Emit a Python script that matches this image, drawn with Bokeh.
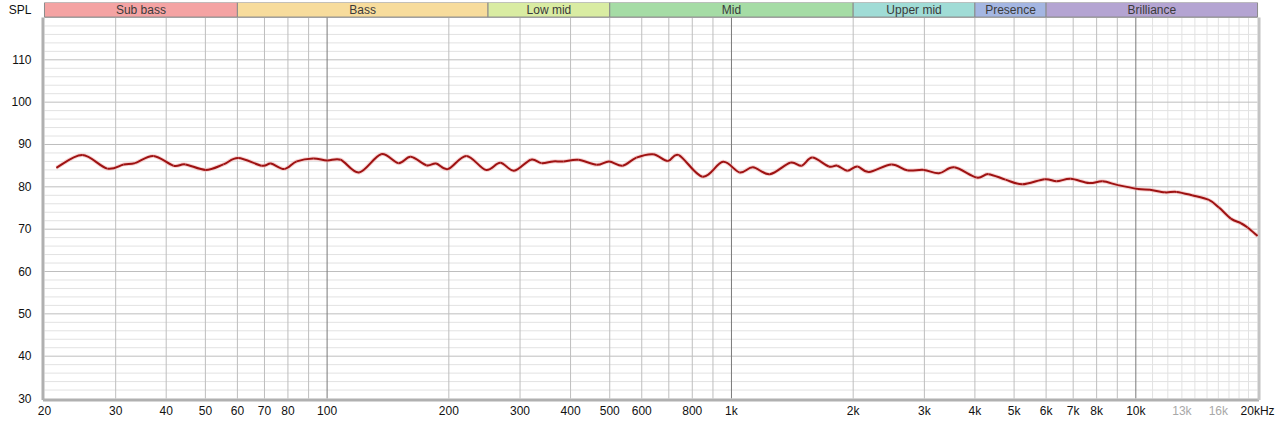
import numpy as np
from bokeh.plotting import figure
from bokeh.models import FixedTicker, Range1d
from bokeh.core.properties import value
from bokeh.embed import file_html
from bokeh.resources import INLINE

# ---- data ----
freq = [21.4, 24.8, 28.6, 31.4, 33.5, 37.2, 41.7, 44.6, 50.1, 55.4, 60.3, 68.9, 72.6, 78.4,
        84.1, 92.4, 100, 108, 120, 136, 150, 161, 176, 186, 199, 221, 247, 268, 290, 319,
        339, 362, 384, 418, 464, 498, 538, 582, 640, 696, 741, 848, 953, 1048, 1130, 1244,
        1397, 1492, 1585, 1741, 1826, 1934, 2048, 2188, 2486, 2720, 2990, 3260, 3556, 4040,
        4320, 4760, 5240, 5950, 6370, 6900, 7660, 8280, 9040, 10120, 10840, 11800, 12620,
        13780, 15160, 16060, 17180, 18200, 18900, 20000]
spl = [84.5, 87.5, 84.3, 85.3, 85.6, 87.3, 85.0, 85.3, 84.0, 85.3, 86.8, 85.0, 85.5, 84.2,
       86.0, 86.7, 86.2, 86.4, 83.4, 87.7, 85.6, 87.1, 85.1, 85.5, 84.2, 87.3, 84.0, 85.7, 83.8, 86.4,
       85.6, 86.0, 86.0, 86.4, 85.2, 86.0, 85.0, 86.9, 87.7, 86.1, 87.5, 82.4, 85.9, 83.4, 84.6, 83.0,
       85.7, 85.0, 86.9, 84.8, 85.0, 83.8, 84.8, 83.5, 85.3, 83.9, 84.0, 83.2, 84.6, 82.2,
       83.0, 81.7, 80.6, 81.8, 81.3, 81.9, 80.9, 81.3, 80.4, 79.5, 79.3, 78.7, 78.8,
       78.0, 76.9, 75.1, 72.5, 71.4, 70.4, 68.4]

band_names = ["Sub bass", "Bass", "Low mid", "Mid", "Upper mid", "Presence", "Brilliance"]
band_lo = [20, 60, 250, 500, 2000, 4000, 6000]
band_hi = [60, 250, 500, 2000, 4000, 6000, 20000]
band_colors = ["#f4a3a3", "#f7dc9c", "#d9eca2", "#a5dca5", "#a0dcd6", "#a4b6e2", "#b4a4d2"]

x_ticks = [20, 30, 40, 50, 60, 70, 80, 100, 200, 300, 400, 500, 600, 800, 1000, 2000, 3000,
           4000, 5000, 6000, 7000, 8000, 10000, 13000, 16000, 20000]
x_tick_labels = ["20", "30", "40", "50", "60", "70", "80", "100", "200", "300", "400", "500",
                 "600", "800", "1k", "2k", "3k", "4k", "5k", "6k", "7k", "8k", "10k", "13k",
                 "16k", "20kHz"]
gray_ticks = [13000, 16000]
y_ticks = [30, 40, 50, 60, 70, 80, 90, 100, 110]
y_title = "SPL"

grid_major_x = [100, 1000, 10000]
grid_mid_x = [30, 40, 50, 60, 70, 80, 90, 200, 300, 400, 500, 600, 700, 800, 900,
              2000, 3000, 4000, 5000, 6000, 7000, 8000, 9000]
grid_light_x = [11000, 12000, 13000, 14000, 15000, 16000, 17000, 18000, 19000]
grid_major_y = [40, 50, 60, 70, 80, 90, 100, 110, 120]
grid_minor_y = [v for v in range(32, 120, 2) if v % 10 != 0]

F_MIN, F_MAX = 20, 20000
Y_MIN, Y_MAX = 30, 120

# ---- layout constants (pixels) ----
PX_DEC = 405.0       # pixels per decade
PX_DB = 4.2375       # pixels per dB
FRAME_LEFT = 30      # frame left edge (px); 20 Hz sits at 44 px
LEFT_PAD = 44.0 - FRAME_LEFT
RIGHT_PAD = 23.0     # frame ends this many px right of 20 kHz
TOP_PAD = 15.0       # band height above the 120 dB line
BOTTOM_PAD = 24.0    # space under the 30 dB line (tick labels)

x_lo = F_MIN * 10 ** (-LEFT_PAD / PX_DEC)
x_hi = F_MAX * 10 ** (RIGHT_PAD / PX_DEC)
y_hi = Y_MAX + TOP_PAD / PX_DB
y_lo = Y_MIN - BOTTOM_PAD / PX_DB
band_bottom = Y_MAX + 0.1
label_y = Y_MIN - 12.0 / PX_DB
title_y = (band_bottom + y_hi) / 2

FONT = "Liberation Sans"

p = figure(width=1280, height=422, x_axis_type="log",
           x_range=Range1d(x_lo, x_hi), y_range=Range1d(y_lo, y_hi),
           output_backend="svg", toolbar_location=None,
           min_border_left=FRAME_LEFT, min_border_right=0, min_border_top=2, min_border_bottom=0,
           background_fill_color="white", border_fill_color="white")
p.xgrid.visible = False
p.ygrid.visible = False
p.xaxis.visible = False
p.outline_line_color = None

# y axis (real axis, with the SPL title as its top label)
p.yaxis.ticker = FixedTicker(ticks=y_ticks + [title_y])
p.yaxis.major_label_overrides = {title_y: y_title}
p.yaxis.bounds = (Y_MIN, title_y)
p.yaxis.axis_line_color = None
p.yaxis.major_tick_line_color = None
p.yaxis.minor_tick_line_color = None
p.yaxis.major_label_text_font = FONT
p.yaxis.major_label_text_font_size = "12px"
p.yaxis.major_label_text_color = "#111111"
p.yaxis.major_label_standoff = -7


def hlines(ys, color, width=1):
    p.segment(x0=[F_MIN] * len(ys), x1=[F_MAX] * len(ys), y0=ys, y1=ys,
              line_color=color, line_width=width)


def vlines(xs, color, width=1):
    p.segment(x0=xs, x1=xs, y0=[Y_MIN] * len(xs), y1=[Y_MAX] * len(xs),
              line_color=color, line_width=width)


hlines(grid_minor_y, "#e2e2e2")
vlines(grid_light_x, "#e2e2e2")
hlines(grid_major_y, "#bebebe")
vlines(grid_mid_x, "#bebebe")
vlines(grid_major_x, "#7a7a7a")

# frame shadow: left, bottom, right
sx = 10 ** (-1.5 / PX_DEC)
p.segment(x0=[F_MIN * sx], x1=[F_MIN * sx], y0=[Y_MIN - 1.5 / PX_DB], y1=[Y_MAX],
          line_color="#b0b0b0", line_width=3)
p.segment(x0=[F_MIN * sx], x1=[F_MAX / sx], y0=[Y_MIN - 1.5 / PX_DB], y1=[Y_MIN - 1.5 / PX_DB],
          line_color="#b0b0b0", line_width=3)
p.segment(x0=[F_MAX / sx], x1=[F_MAX / sx], y0=[Y_MIN - 1.5 / PX_DB], y1=[Y_MAX],
          line_color="#c4c4c4", line_width=3)

# frequency band bar
p.quad(left=band_lo, right=band_hi, bottom=band_bottom, top=y_hi, fill_color=band_colors,
       line_color="#8a8a8a", line_width=1)
centers = np.sqrt(np.array(band_lo, dtype=float) * np.array(band_hi, dtype=float))
p.text(x=centers, y=[title_y] * len(band_names), text=band_names,
       text_font=value(FONT), text_font_size=value("12px"), text_align="center",
       text_baseline="middle", text_color="#3a3a3a")

# x tick labels
label_colors = ["#a8a8a8" if t in gray_ticks else "#111111" for t in x_ticks]
p.text(x=x_ticks, y=[label_y] * len(x_ticks), text=x_tick_labels,
       text_font=value(FONT), text_font_size=value("12px"), text_align="center",
       text_baseline="middle", text_color=label_colors)

# smooth curve (Catmull-Rom -> Bezier in log-frequency space)
u = np.log10(np.array(freq, dtype=float))
v = np.array(spl, dtype=float)
n = len(u)
up = np.concatenate([[u[0]], u, [u[-1]]])
vp = np.concatenate([[v[0]], v, [v[-1]]])
i = np.arange(n - 1)
cu0 = up[i + 1] + (up[i + 2] - up[i]) / 6.0
cv0 = vp[i + 1] + (vp[i + 2] - vp[i]) / 6.0
cu1 = up[i + 2] - (up[i + 3] - up[i + 1]) / 6.0
cv1 = vp[i + 2] - (vp[i + 3] - vp[i + 1]) / 6.0
bez = dict(x0=10 ** u[:-1], y0=v[:-1], x1=10 ** u[1:], y1=v[1:],
           cx0=10 ** cu0, cy0=cv0, cx1=10 ** cu1, cy1=cv1)
p.bezier(**bez, line_color="#f2b4b4", line_width=4, line_alpha=0.6)
p.bezier(**bez, line_color="#9e1212", line_width=2)

open("out.html", "w").write(file_html(p, INLINE))
